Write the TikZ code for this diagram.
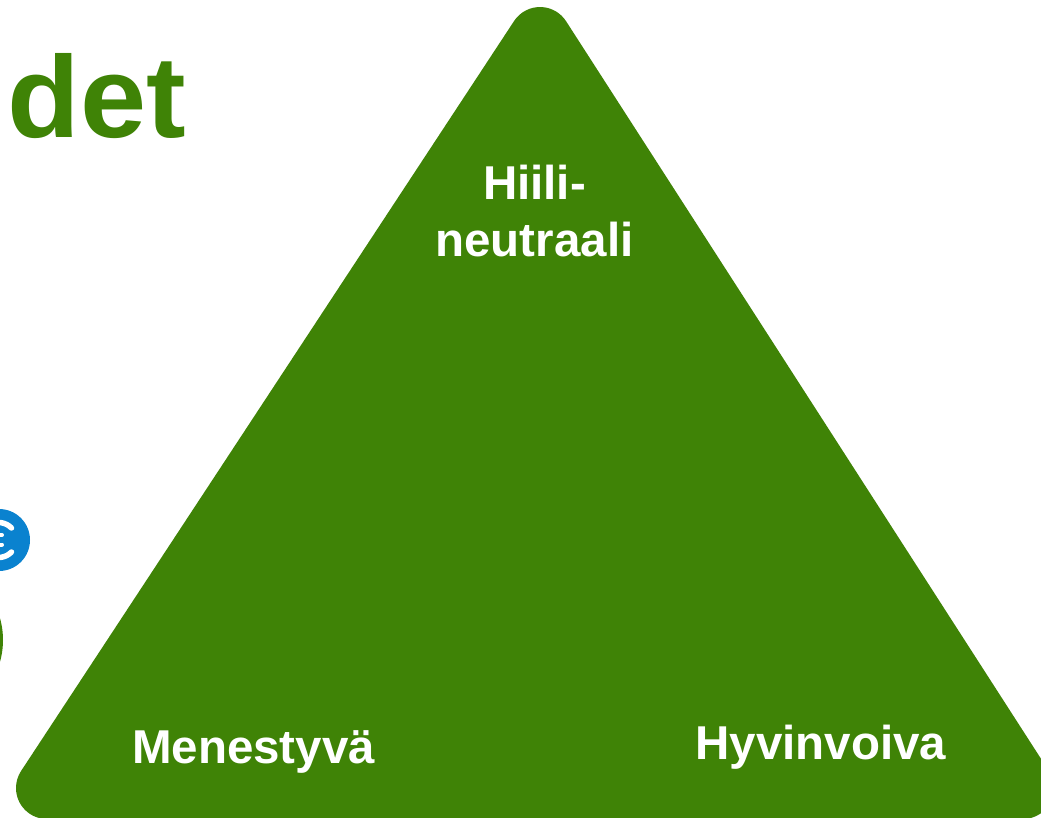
\documentclass[tikz,border=0pt]{standalone}
\usepackage{fontspec}
\usepackage{graphicx}
\setmainfont{Liberation Sans}
\definecolor{leaf}{HTML}{3F8306}
\definecolor{iconblue}{HTML}{0A82CF}
\tikzset{
  lbl/.style={text=white,font=\fontsize{47.5}{57}\selectfont\bfseries,inner sep=0pt,align=center},
}
\begin{document}
\begin{tikzpicture}[x=1pt,y=-1pt]
\useasboundingbox (0,0) rectangle (1041,818);
\clip (0,0) rectangle (1041,818);
\fill[white] (0,0) rectangle (1041,818);
% triangle
\fill[leaf]
  (514.1,21) arc[start angle=-146.7,end angle=-32.8,radius=31]
  -- (1049,771.2) arc[start angle=-32.8,end angle=90,radius=31]
  -- (47,819) arc[start angle=90,end angle=213.3,radius=31] -- cycle;
% title fragment
\node[anchor=base west,text=leaf,font=\fontsize{116}{116}\selectfont\bfseries,inner sep=0pt] (title) at (7.5,138) {\scalebox{1.025}[1]{det}};
% triangle labels
\node[lbl,anchor=base] (top1) at (534.5,199.5) {Hiili-};
\node[lbl,anchor=base] (top2) at (534.5,257) {neutraali};
\node[lbl,anchor=base] (left) at (253.5,763) {Menestyvä};
\node[lbl,anchor=base] (right) at (821,759) {Hyvinvoiva};
% clipped icons at the left edge
\fill[iconblue] (-1,540) circle[radius=31];
\draw[white,line width=5.5pt,line cap=round] (11.5,528) arc[start angle=-44,end angle=-120,radius=18];
\draw[white,line width=5.5pt,line cap=round] (11.5,552) arc[start angle=44,end angle=120,radius=18];
\draw[white,line width=4pt,line cap=round] (-4,535) -- (2,535);
\draw[white,line width=4pt,line cap=round] (-4,544.5) -- (2,544.5);
\fill[leaf] (-77,640) circle[radius=80];
\end{tikzpicture}
\end{document}
